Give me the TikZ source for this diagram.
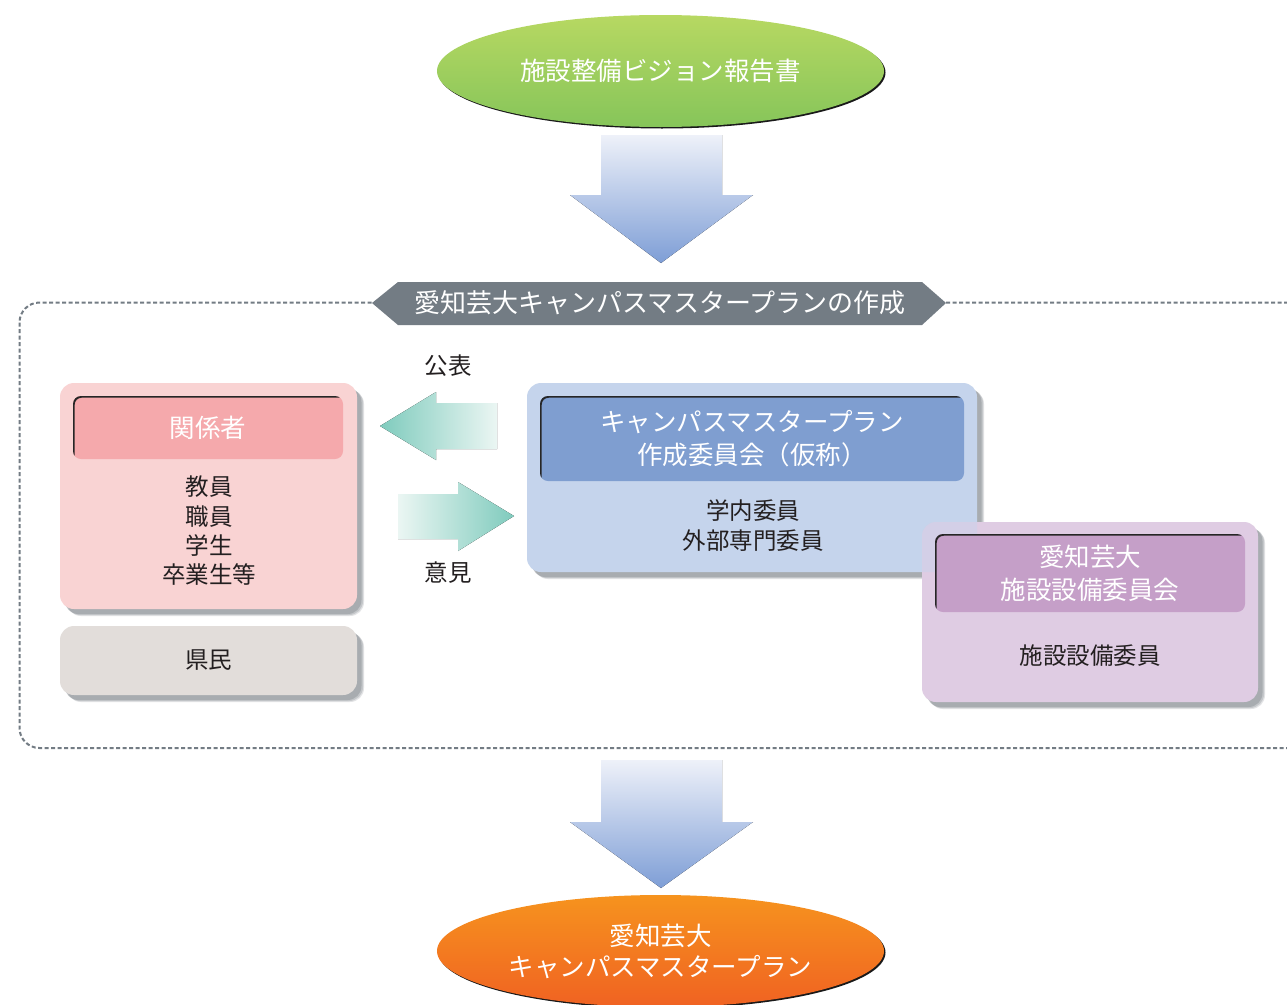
\documentclass[tikz,border=0pt]{standalone}
\usepackage{fontspec}
\setmainfont{Noto Sans CJK JP}
\usetikzlibrary{shapes.geometric,shadows}
\definecolor{greenT}{HTML}{B7D862}
\definecolor{greenB}{HTML}{86C55A}
\definecolor{arrT}{HTML}{EEF1F9}
\definecolor{arrB}{HTML}{7E9ED6}
\definecolor{bannerc}{HTML}{737C84}
\definecolor{tealc}{HTML}{7FCBBD}
\definecolor{tealL}{HTML}{EBF6F3}
\definecolor{pinkbg}{HTML}{F9D3D3}
\definecolor{pinkhd}{HTML}{F5A9AC}
\definecolor{graybg}{HTML}{E2DDDA}
\definecolor{bluebg}{HTML}{C5D4EC}
\definecolor{bluehd}{HTML}{7F9ED0}
\definecolor{purbg}{HTML}{DFCCE3}
\definecolor{purhd}{HTML}{C59FC8}
\definecolor{orT}{HTML}{F6931E}
\definecolor{orB}{HTML}{F06222}
\definecolor{txt}{HTML}{231F20}
\definecolor{shadc}{HTML}{8E9398}
\tikzset{
  oval/.style={ellipse, minimum width=447pt, minimum height=112pt, inner sep=0pt,
    text=white, align=center, font=\fontsize{25.5}{31}\selectfont,
    drop shadow={shadow xshift=1.5pt, shadow yshift=-1.5pt, fill=black, opacity=0.9}},
  outerbox/.style={rectangle, rounded corners=14pt, inner sep=0pt,
    general shadow={shadow xshift=7pt, shadow yshift=-7pt, fill=shadc, opacity=0.25},
    general shadow={shadow xshift=6pt, shadow yshift=-6pt, fill=shadc, opacity=0.35},
    general shadow={shadow xshift=4.5pt, shadow yshift=-5pt, fill=shadc, opacity=0.5}},
  headbox/.style={rectangle, rounded corners=8pt, inner sep=0pt, text=white, align=center,
    font=\fontsize{25.5}{33}\selectfont,
    path picture={\draw[black!85, line width=2.2pt, rounded corners=8pt]
      ([shift={(0.6pt,-0.6pt)}]path picture bounding box.north west) rectangle
      ([shift={(8pt,-8pt)}]path picture bounding box.south east);}},
  bodytext/.style={text=txt, align=center, font=\fontsize{23.5}{29.3}\selectfont, inner sep=0pt},
  bigarrow/.style={top color=arrT, bottom color=arrB},
}
\begin{document}
\begin{tikzpicture}[x=1pt,y=-1pt]
\clip (0,0) rectangle (1287,1004);
\fill[white] (0,0) rectangle (1287,1004);

% top ellipse
\node[oval, top color=greenT, bottom color=greenB] (vision) at (660.5,71) {施設整備ビジョン報告書};

% down arrow 1
\fill[bigarrow] (601,135) -- (722,135) -- (722,195) -- (753,195) -- (661,263) -- (570,195) -- (601,195) -- cycle;

% dashed frame
\draw[bannerc, line width=2pt, dash pattern=on 4pt off 2.5pt, rounded corners=20pt] (19.5,302.5) rectangle (1320,748);

% banner
\fill[bannerc] (372,303) -- (398,282) -- (922,282) -- (946,303) -- (922,325) -- (398,325) -- cycle;
\node[text=white, font=\fontsize{26}{30}\selectfont, inner sep=0pt] (banner) at (660,303) {愛知芸大キャンパスマスタープランの作成};

% teal arrows
\fill[left color=tealc, right color=tealL] (380,426) -- (436,392) -- (436,403) -- (497,403) -- (497,449) -- (436,449) -- (436,460) -- cycle;
\fill[left color=tealL, right color=tealc] (398,494) -- (458,494) -- (458,482) -- (514,516) -- (458,551) -- (458,539) -- (398,539) -- cycle;
\node[bodytext] (pub) at (448,366) {公表};
\node[bodytext] (opin) at (448,573) {意見};

% pink box
\node[outerbox, fill=pinkbg, minimum width=297pt, minimum height=226pt] (rel) at (208.5,496) {};
\node[headbox, fill=pinkhd, minimum width=270pt, minimum height=63pt] (relh) at (208,427.5) {関係者};
\node[bodytext] (relb) at (209,531) {教員\\職員\\学生\\卒業生等};

% gray box
\node[outerbox, fill=graybg, minimum width=297pt, minimum height=69pt, bodytext] (pref) at (208.5,660.5) {県民};

% blue box
\node[outerbox, fill=bluebg, minimum width=450pt, minimum height=189pt] (comm) at (752,477.5) {};
\node[headbox, fill=bluehd, minimum width=424pt, minimum height=85pt] (commh) at (752,438.5) {キャンパスマスタープラン\\作成委員会（仮称）};
\node[bodytext] (commb) at (753,525.5) {学内委員\\外部専門委員};

% purple box
\node[outerbox, fill=purbg, minimum width=336pt, minimum height=180pt] (fac) at (1090,612) {};
\begin{scope}
  \clip[rounded corners=14pt] (fac.north west) rectangle (fac.south east);
  \fill[bluebg, opacity=0.45, rounded corners=14pt] (comm.north west) rectangle (comm.south east);
\end{scope}
\node[headbox, fill=purhd, minimum width=310pt, minimum height=78pt] (fach) at (1090,573) {愛知芸大\\施設設備委員会};
\node[bodytext] (facb) at (1090,656) {施設設備委員};

% down arrow 2
\fill[bigarrow] (601,760) -- (722,760) -- (722,822) -- (753,822) -- (661,888) -- (570,822) -- (601,822) -- cycle;

% bottom ellipse
\node[oval, top color=orT, bottom color=orB] (plan) at (660.5,951) {愛知芸大\\キャンパスマスタープラン};
\end{tikzpicture}
\end{document}
